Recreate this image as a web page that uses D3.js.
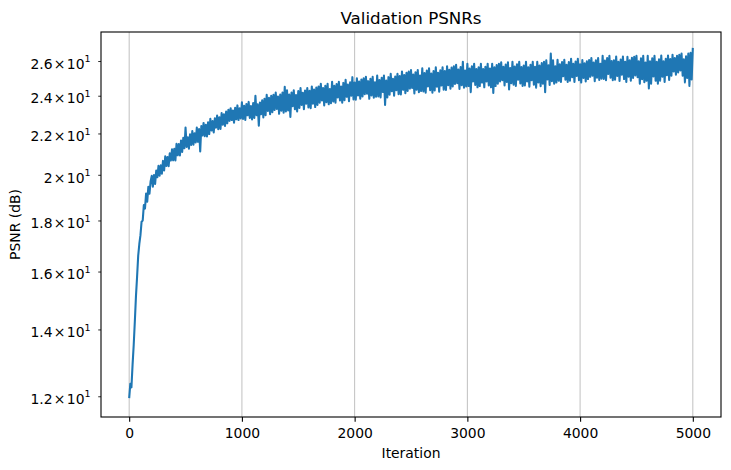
<!DOCTYPE html>
<html><head><meta charset="utf-8">
<script src="https://cdn.jsdelivr.net/npm/d3@7"></script>
<style>body{margin:0;background:#fff}svg{display:block;font-family:"DejaVu Sans",sans-serif}</style>
</head><body><svg id="c" width="731" height="470"></svg>
<script>
const title = "Validation PSNRs";
const xLabel = "Iteration";
const yLabel = "PSNR (dB)";
const iterStep = 10;
const xTicks = [0, 1000, 2000, 3000, 4000, 5000];
const yTicks = [12, 14, 16, 18, 20, 22, 24, 26];
const yTickMantissa = ["1.2", "1.4", "1.6", "1.8", "2", "2.2", "2.4", "2.6"];
const psnr = [
11.95,12.35,12.25,12.9,13.5,14.25,15.1,15.8,16.6,17.05,
17.4,17.95,18.0,18.65,18.5,19.15,18.8,19.45,19.15,19.7,
19.95,19.46,19.99,19.58,20.2,19.89,20.42,19.96,20.44,20.05,
20.65,20.2,20.87,20.41,20.84,20.4,21.02,20.67,21.21,20.68,
21.23,20.67,21.48,20.92,21.47,20.91,21.64,21.08,21.78,21.26,
22.3,21.33,21.81,21.24,21.96,21.43,22.12,21.44,22.01,21.55,
22.3,21.58,22.22,21.1,22.38,21.9,22.54,21.86,22.44,21.85,
22.58,21.97,22.76,22.15,22.64,22.05,22.78,22.3,22.93,22.22,
22.84,22.23,23.06,22.45,23.0,22.39,23.14,22.52,23.23,22.65,
23.32,22.69,23.2,22.55,23.34,22.73,23.47,22.69,23.31,22.78,
23.64,22.75,23.45,22.7,23.55,22.94,23.66,22.8,23.43,22.72,
23.6,22.8,24.0,22.95,23.53,22.4,23.63,23.0,23.75,22.83,
23.83,22.95,24.05,23.17,23.89,23.0,24.0,23.11,24.05,23.22,
24.18,23.28,23.95,23.02,24.06,23.19,24.18,23.08,24.5,23.14,
24.3,23.2,24.07,22.85,24.18,23.43,24.3,23.26,24.04,23.14,
24.26,23.33,24.43,23.5,24.17,23.27,24.29,23.56,24.43,23.36,
24.28,23.32,24.52,23.56,24.34,23.38,24.46,23.5,24.52,23.62,
24.67,23.74,24.43,23.47,24.55,23.65,24.67,23.53,24.37,23.59,
24.78,23.68,24.55,23.62,24.66,23.91,24.78,23.74,24.52,23.62,
24.72,23.76,24.9,23.94,24.63,23.7,24.75,24.0,25.05,23.79,
24.74,23.78,24.98,24.02,24.8,23.84,24.92,23.96,24.98,24.08,
25.07,24.11,24.82,23.83,24.95,24.02,25.07,23.89,24.76,23.95,
25.14,23.96,24.89,23.9,25.02,24.21,25.14,23.5,24.86,23.9,
25.05,24.06,25.24,24.25,24.96,24.0,25.09,24.31,25.24,24.09,
25.11,24.07,25.37,24.33,25.18,24.14,25.31,24.27,25.37,24.4,
25.47,24.43,25.2,24.13,25.34,24.33,25.47,24.2,25.14,24.26,
25.57,24.24,25.29,24.17,25.43,24.52,25.57,24.31,25.26,24.17,
25.41,24.29,25.62,24.5,25.31,24.22,25.45,24.57,25.62,24.33,
25.41,24.32,25.68,24.59,25.48,24.39,25.61,24.52,25.68,24.66,
25.78,24.7,25.5,24.38,25.64,24.59,25.95,24.45,25.43,24.52,
25.83,24.54,25.56,24.2,25.69,24.81,25.83,24.61,25.52,24.47,
25.63,24.54,25.83,24.74,25.52,24.47,25.66,24.81,25.83,24.57,
25.56,24.47,25.83,24.15,25.63,24.54,25.76,24.67,25.83,24.81,
25.93,24.88,25.66,24.57,25.79,24.77,25.93,24.35,25.59,24.71,
25.95,24.62,25.67,24.55,25.81,24.9,25.95,24.69,25.64,24.55,
25.73,24.58,25.95,24.8,25.63,24.51,25.77,24.87,25.95,24.62,
25.65,24.45,25.95,24.75,25.73,24.53,25.88,24.68,25.95,24.2,
26.04,24.92,25.75,24.6,26.45,24.82,26.04,24.67,25.68,24.74,
26.07,24.84,25.81,24.77,25.94,25.1,26.07,24.9,25.78,24.77,
25.94,24.85,26.14,25.05,25.83,24.78,25.97,25.12,26.14,24.88,
25.8,24.74,26.06,25.0,25.86,24.81,25.99,24.94,26.06,25.07,
26.18,25.13,25.91,24.82,26.04,25.02,26.18,24.89,25.84,24.96,
26.32,24.95,26.03,24.88,26.18,25.24,26.32,25.02,26.0,24.88,
26.05,24.9,26.27,25.12,25.95,24.83,26.09,25.19,26.27,24.94,
25.96,24.78,26.26,25.08,26.04,24.85,26.19,25.0,26.26,25.15,
26.32,25.05,25.99,24.68,26.16,24.93,26.32,24.76,25.91,24.84,
26.32,24.4,25.99,24.68,26.16,25.09,26.32,24.84,25.95,24.68,
26.1,24.85,26.33,25.08,25.98,24.77,26.14,25.16,26.33,24.89,
26.12,25.13,26.37,25.38,26.18,25.19,26.31,25.32,26.37,25.44,
26.45,25.13,26.11,24.75,26.28,25.0,26.45,24.55,26.5,24.92,
26.8
];

const svg = d3.select("#c");
const m = {l: 101, r: 721, t: 32, b: 417};
const x = d3.scaleLinear().domain([-250, 5250]).range([m.l, m.r]);
const y = d3.scaleLog().domain([11.44, 27.8]).range([m.b, m.t]);

// vertical grid
svg.append("g").selectAll("line").data(xTicks).join("line")
  .attr("x1", d => x(d)).attr("x2", d => x(d))
  .attr("y1", m.t).attr("y2", m.b)
  .attr("stroke", "#b0b0b0").attr("stroke-width", 0.8);

// series
svg.append("path").datum(psnr)
  .attr("d", d3.line().x((d, i) => x(i * iterStep)).y(d => y(d)))
  .attr("fill", "none").attr("stroke", "#1f77b4")
  .attr("stroke-width", 2.08).attr("stroke-linejoin", "round");

// spines
svg.append("rect").attr("x", m.l).attr("y", m.t)
  .attr("width", m.r - m.l).attr("height", m.b - m.t)
  .attr("fill", "none").attr("stroke", "#000").attr("stroke-width", 1.1);

// x axis
const gx = svg.append("g").attr("transform", `translate(0,${m.b})`)
  .call(d3.axisBottom(x).tickValues(xTicks).tickSize(4.86).tickPadding(4.86)
    .tickSizeOuter(0).tickFormat(d3.format("d")));
gx.select(".domain").remove();
gx.selectAll(".tick line").attr("stroke", "#000").attr("stroke-width", 1.1);
gx.selectAll(".tick text").attr("font-family", "DejaVu Sans").attr("font-size", 13.9)
  .attr("fill", "#000").attr("dy", "0.83em");
gx.attr("font-family", null).attr("font-size", null);

// y axis
const gy = svg.append("g").attr("transform", `translate(${m.l},0)`)
  .call(d3.axisLeft(y).tickValues(yTicks).tickSize(2.78).tickPadding(7.7)
    .tickSizeOuter(0).tickFormat(() => ""));
gy.select(".domain").remove();
gy.attr("font-family", null).attr("font-size", null);
gy.selectAll(".tick line").attr("stroke", "#000").attr("stroke-width", 0.83);
gy.selectAll(".tick text").each(function(d, i) {
  const t = d3.select(this).text("")
    .attr("font-family", "DejaVu Sans").attr("font-size", 13.9)
    .attr("fill", "#000").attr("dy", "0.52em");
  t.append("tspan").text(yTickMantissa[i]);
  t.append("tspan").attr("dx", 1.3).text("×");
  t.append("tspan").attr("dx", 1.3).text("10");
  t.append("tspan").attr("font-size", 9.5).attr("dy", -6.6).text("1");
});

// labels
svg.append("text").attr("x", (m.l + m.r) / 2).attr("y", 24)
  .attr("text-anchor", "middle").attr("font-size", 16.7).text(title);
svg.append("text").attr("x", (m.l + m.r) / 2).attr("y", 457.5)
  .attr("text-anchor", "middle").attr("font-size", 13.9).text(xLabel);
svg.append("text").attr("transform", `translate(20,${(m.t + m.b) / 2}) rotate(-90)`)
  .attr("text-anchor", "middle").attr("font-size", 13.9).text(yLabel);
</script></body></html>
